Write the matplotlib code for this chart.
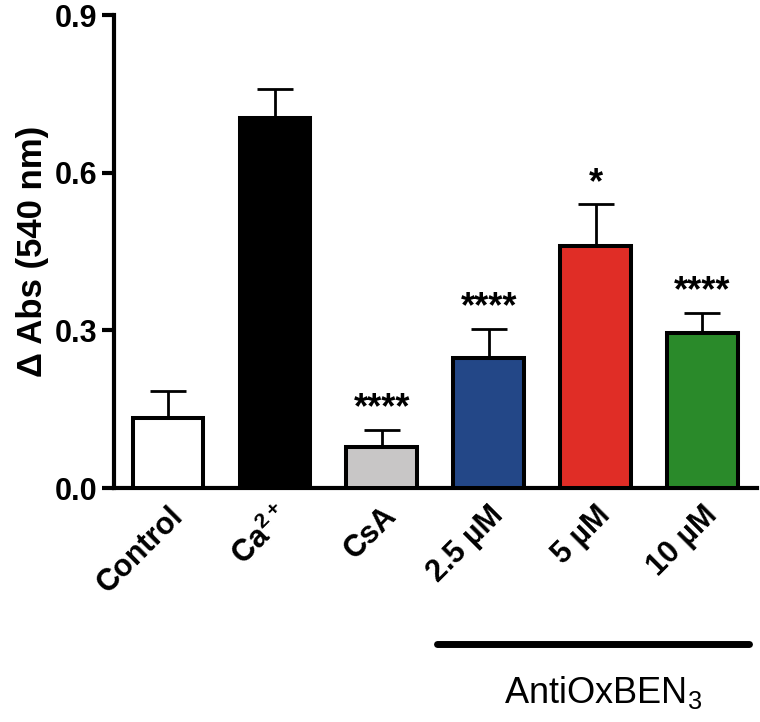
import matplotlib.pyplot as plt
import numpy as np

plt.rcParams['font.family'] = ['Liberation Sans', 'DejaVu Sans']
plt.rcParams['mathtext.fontset'] = 'custom'
plt.rcParams['mathtext.rm'] = 'Liberation Sans'
plt.rcParams['mathtext.bf'] = 'Liberation Sans:bold'

# data
groups = ['Control', r'Ca$^{\mathbf{2+}}$', 'CsA', '2.5 µM', '5 µM', '10 µM']
means = [0.134, 0.704, 0.078, 0.248, 0.461, 0.296]
errs = [0.051, 0.055, 0.033, 0.055, 0.079, 0.038]
stars = ['', '', '****', '****', '*', '****']
colors = ['white', 'black', '#c8c6c6', '#234787', '#e02d26', '#2a8a2a']

fig = plt.figure(figsize=(7.6, 7.22), dpi=100)
ax = fig.add_axes([0.15, 0.324, 0.846, 0.655])

x = np.arange(len(groups))
ax.bar(x, means, width=0.66, color=colors, edgecolor='black', linewidth=2.9, zorder=3)
ax.errorbar(x, means, yerr=[np.zeros(len(means)), errs], fmt='none', ecolor='black',
            elinewidth=2, capsize=13, capthick=2, zorder=2)

for xi, m, e, s in zip(x, means, errs, stars):
    if s:
        ax.text(xi, m + e + 0.022, s, ha='center', va='baseline', fontsize=26, fontweight='bold')

ax.set_xlim(-0.505, 5.51)
ax.set_ylim(0, 0.9)
ax.set_yticks([0.0, 0.3, 0.6, 0.9])
ax.set_yticklabels(['0.0', '0.3', '0.6', '0.9'], fontsize=22, fontweight='bold')
ax.set_ylabel('Δ Abs (540 nm)', fontsize=25, fontweight='bold', labelpad=4)

ax.set_xticks(x)
ax.set_xticklabels(groups, rotation=45, ha='right', rotation_mode='anchor',
                   fontsize=22, fontweight='bold')
ax.tick_params(axis='x', length=0, pad=9)
ax.tick_params(axis='y', length=9, width=3, direction='out', pad=3)

for side in ['top', 'right']:
    ax.spines[side].set_visible(False)
for side in ['left', 'bottom']:
    ax.spines[side].set_linewidth(3)

# bracket for AntiOxBEN3 group
trans = ax.get_xaxis_transform()
ax.plot([2.52, 5.44], [-0.330, -0.330], color='black', linewidth=5,
        solid_capstyle='round', transform=trans, clip_on=False)
ax.text(4.07, -0.4545, r'AntiOxBEN$_3$', ha='center', va='baseline', fontsize=26,
        transform=trans, clip_on=False)

fig.savefig('out.png', dpi=100)
